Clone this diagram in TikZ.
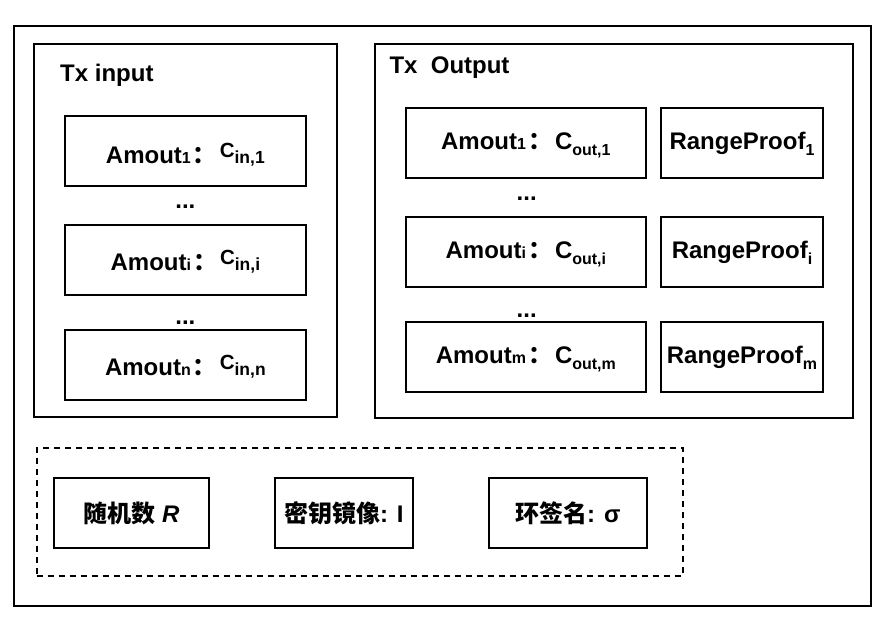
\documentclass[tikz,border=0pt]{standalone}
\usepackage{fontspec}
\setmainfont{Liberation Sans}
\newfontfamily\cjk{Noto Sans CJK SC}
\newcommand\smd[1]{{\fontsize{16}{16}\selectfont #1}}
\newcommand\insub[1]{{\fontsize{17.5}{17.5}\selectfont #1}}
\newcommand\lowsub[1]{\raisebox{-6pt}{\fontsize{16}{16}\selectfont #1}}
\newcommand\inC{\raisebox{6pt}{\fontsize{20.5}{20.5}\selectfont C}}
\newcommand\zhcolon{\hspace{2pt}{\cjk ：}\hspace{3pt}}
\tikzset{
  frame/.style={draw, line width=2pt, inner sep=0pt},
  cell/.style={draw, line width=2pt, inner sep=0pt, minimum height=70pt,
    font=\bfseries\fontsize{24}{28}\selectfont},
  bl/.style={text height=#1, text depth=0pt},
  dashframe/.style={draw, line width=1.8pt, dash pattern=on 6pt off 5pt, inner sep=0pt},
  label/.style={anchor=base west, inner sep=0pt, font=\bfseries\fontsize{24}{28}\selectfont},
  dots/.style={anchor=base, inner sep=0pt, font=\bfseries\fontsize{24}{28}\selectfont},
}
\begin{document}
\begin{tikzpicture}[x=1pt,y=-1pt]
\useasboundingbox (0,0) rectangle (888,622);
% frames
\node[frame, minimum width=857pt, minimum height=580.3pt] (outer) at (442.5,315.85) {};
\node[frame, minimum width=303pt, minimum height=372.5pt] (txin) at (185.5,230.25) {};
\node[frame, minimum width=478.3pt, minimum height=373.5pt] (txout) at (614.15,230.75) {};
\node[dashframe, minimum width=646.6pt, minimum height=127.4pt] (extra) at (360,512) {};
% titles
\node[label] (tin) at (60,81.7) {Tx input};
\node[label] (tout) at (389.3,73.3) {Tx\ \ Output};
% input cells
\node[cell, bl=24pt, minimum width=240.7pt] (in1) at (185.35,151) {Amout\smd{1}\zhcolon\inC\insub{in,1}};
\node[dots] (d1) at (185.35,208) {...};
\node[cell, bl=21pt, minimum width=240.7pt] (ini) at (185.35,259.7) {Amout\smd{i}\zhcolon\inC\insub{in,i}};
\node[dots] (d2) at (185.35,324) {...};
\node[cell, bl=21pt, minimum width=240.7pt] (inn) at (185.35,364.7) {Amout\smd{n}\zhcolon\inC\insub{in,n}};
% output cells
\node[cell, bl=12.5pt, minimum width=240.3pt] (out1) at (525.85,143) {Amout\smd{1}\zhcolon C\lowsub{out,1}};
\node[cell, bl=12.5pt, minimum width=162.6pt] (rp1) at (742,143) {RangeProof\lowsub{1}};
\node[dots] (d3) at (526.7,200) {...};
\node[cell, bl=13pt, minimum width=240.3pt] (outi) at (525.85,251.85) {Amout\smd{i}\zhcolon C\lowsub{out,i}};
\node[cell, bl=13pt, minimum width=162.6pt] (rpi) at (742,251.85) {RangeProof\lowsub{i}};
\node[dots] (d4) at (526.7,317) {...};
\node[cell, bl=12.5pt, minimum width=240.3pt] (outm) at (525.85,357) {Amout\smd{m}\zhcolon C\lowsub{out,m}};
\node[cell, bl=12.5pt, minimum width=162.6pt] (rpm) at (742,357) {RangeProof\lowsub{m}};
% bottom cells
\node[cell, bl=20pt, minimum width=155pt] (rnd) at (131.5,512.7) {{\cjk\bfseries 随机数} \textit{R}};
\node[cell, bl=20pt, minimum width=137.7pt] (kimg) at (343.85,512.7) {{\cjk\bfseries 密钥镜像}: I};
\node[cell, bl=20pt, minimum width=157.7pt] (rsig) at (567.85,512.7) {{\cjk\bfseries 环签名}: σ};
\end{tikzpicture}
\end{document}
